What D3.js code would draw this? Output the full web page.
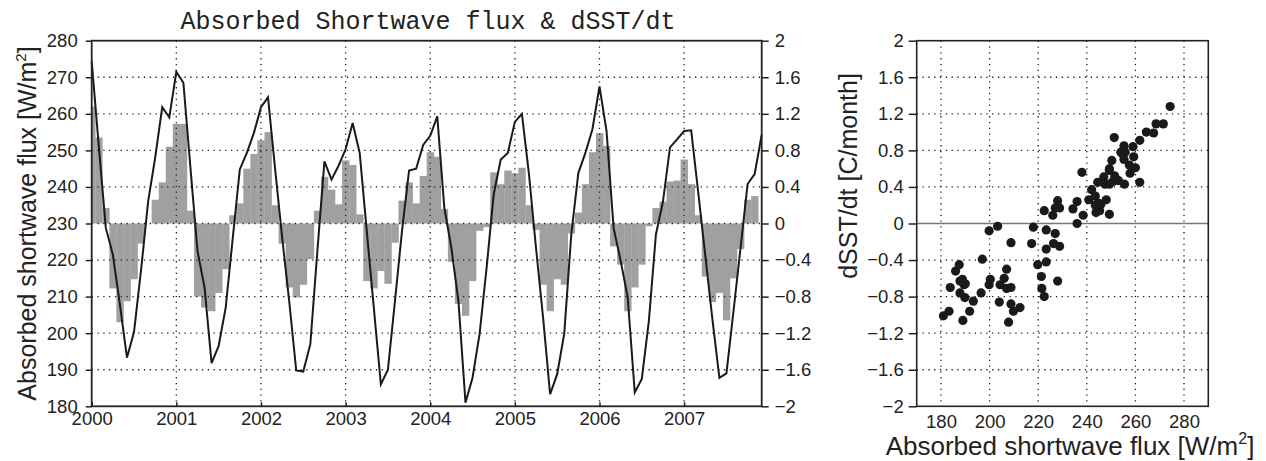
<!DOCTYPE html>
<html><head><meta charset="utf-8">
<script src="https://cdn.jsdelivr.net/npm/d3@7"></script>
<style>body{margin:0;background:#fff}svg{display:block}</style>
</head><body>
<svg id="c" width="1266" height="461"></svg>
<script>
// Monthly absorbed shortwave flux (W/m2), Jan 2000 - Dec 2007 (line, left axis)
const fluxLine = [
274.3,251.3,228.8,221.5,207.8,193.3,200.3,217.3,236.0,248.0,261.8,259.0,
271.5,268.5,245.3,222.5,212.5,191.8,196.5,207.0,226.0,244.8,249.3,254.8,
261.8,264.5,245.0,226.3,208.8,189.8,189.5,197.0,222.5,247.0,242.0,245.8,
250.3,257.5,249.3,228.0,207.0,186.0,190.0,208.8,228.0,244.5,245.0,251.5,
254.0,259.3,234.3,223.3,208.8,181.0,187.8,199.8,218.0,238.0,247.5,249.3,
257.8,260.0,243.5,223.3,204.3,183.3,188.8,199.8,227.0,243.8,249.3,255.8,
267.5,255.3,228.8,219.8,209.8,183.8,187.5,203.3,227.0,236.0,250.8,253.0,
255.3,255.5,238.5,221.3,204.0,187.8,189.0,206.0,223.3,240.8,243.5,254.3];
// Monthly dSST/dt (C/month) (bars, right axis); last month missing
const dsstBars = [
1.28,0.94,0.17,-0.71,-1.08,-0.85,-0.61,-0.22,0.00,0.26,0.45,0.84,
1.09,1.09,0.14,-0.80,-0.92,-0.96,-0.76,-0.50,0.09,0.22,0.60,0.76,
0.91,1.00,0.20,-0.22,-0.70,-0.81,-0.67,-0.39,0.14,0.51,0.37,0.21,
0.69,0.64,0.10,-0.63,-0.71,-0.52,-0.66,-0.21,0.25,0.45,0.22,0.52,
0.78,0.73,0.16,-0.42,-0.88,-1.01,-0.63,-0.08,-0.04,0.56,0.43,0.58,
0.55,0.61,0.20,-0.07,-0.67,-0.96,-0.61,-0.67,-0.11,0.12,0.43,0.78,
0.99,0.85,-0.25,-0.45,-0.96,-0.70,-0.45,-0.03,0.17,0.24,0.46,0.47,
0.70,0.43,0.09,-0.58,-0.86,-0.76,-1.06,-0.60,-0.28,0.26,0.30,null];
const startYear = 2000;
const yearTicks = [2000,2001,2002,2003,2004,2005,2006,2007];
const fluxTicks = [180,190,200,210,220,230,240,250,260,270,280];
const dsstTicks = [-2,-1.6,-1.2,-0.8,-0.4,0,0.4,0.8,1.2,1.6,2];
const scatterXTicks = [180,200,220,240,260,280];

const svg = d3.select("#c");
const fmt = v => (v < 0 ? "\u2212" : "") + d3.format("")(Math.abs(+v.toFixed(1)));
const tickFont = "Liberation Sans, Arial, sans-serif";
const tickSize = 18.5;

// ---------- left panel ----------
const L = {x0: 91.7, x1: 761.7, y0: 40.7, y1: 406.3};
const nM = fluxLine.length;
const tOf = i => startYear + i / 12;
const x = d3.scaleLinear().domain([startYear, tOf(nM - 1)]).range([L.x0, L.x1]);
const yL = d3.scaleLinear().domain([180, 280]).range([L.y1, L.y0]);
const yR = d3.scaleLinear().domain([-2, 2]).range([L.y1, L.y0]);

svg.append("clipPath").attr("id", "clipL").append("rect")
  .attr("x", L.x0).attr("y", L.y0).attr("width", L.x1 - L.x0).attr("height", L.y1 - L.y0);

const gL = svg.append("g");
// bars
const bw = x(tOf(1)) - x(tOf(0));
gL.append("g").attr("clip-path", "url(#clipL)").selectAll("rect")
  .data(dsstBars.map((v, i) => ({v, i})).filter(d => d.v !== null))
  .join("rect")
  .attr("x", d => x(tOf(d.i)) - bw / 2)
  .attr("width", bw + 0.3)
  .attr("y", d => Math.min(yR(d.v), yR(0)))
  .attr("height", d => Math.abs(yR(d.v) - yR(0)))
  .attr("fill", "#a0a0a3");

// grid
const grid = gL.append("g").attr("stroke", "#222").attr("stroke-width", 1.3).attr("stroke-dasharray", "1.3,4.5");
grid.selectAll(".h").data(fluxTicks.slice(1, -1)).join("line")
  .attr("x1", L.x0).attr("x2", L.x1).attr("y1", d => yL(d)).attr("y2", d => yL(d));
grid.selectAll(".v").data(yearTicks.slice(1)).join("line")
  .attr("y1", L.y0).attr("y2", L.y1).attr("x1", d => x(d)).attr("x2", d => x(d));

// line
gL.append("path").datum(fluxLine)
  .attr("fill", "none").attr("stroke", "#1a1a1a").attr("stroke-width", 2)
  .attr("stroke-linejoin", "miter")
  .attr("d", d3.line().x((d, i) => x(tOf(i))).y(d => yL(d)));

// frame
gL.append("rect").attr("x", L.x0).attr("y", L.y0).attr("width", L.x1 - L.x0).attr("height", L.y1 - L.y0)
  .attr("fill", "none").attr("stroke", "#222").attr("stroke-width", 1.8);

// axes
const axL = d3.axisLeft(yL).tickValues(fluxTicks).tickSize(6).tickPadding(8).tickFormat(d3.format("d"));
const gaL = gL.append("g").attr("transform", `translate(${L.x0},0)`).call(axL);
const axR = d3.axisRight(yR).tickValues(dsstTicks).tickSize(7).tickPadding(6).tickFormat(fmt);
const gaR = gL.append("g").attr("transform", `translate(${L.x1},0)`).call(axR);
const axB = d3.axisBottom(x).tickValues(yearTicks).tickSize(-4).tickPadding(9).tickFormat(d3.format("d"));
const gaB = gL.append("g").attr("transform", `translate(0,${L.y1})`).call(axB);
[gaL, gaR, gaB].forEach(g => {
  g.select(".domain").remove();
  g.selectAll(".tick line").attr("stroke", "#222").attr("stroke-width", 1.5);
  g.selectAll("text").attr("font-family", tickFont).attr("font-size", tickSize).attr("fill", "#222");
});
gaB.selectAll("text").attr("dy", "0.5em");

// title
svg.append("text").attr("x", 428).attr("y", 29).attr("text-anchor", "middle")
  .attr("font-family", "Liberation Mono, Courier New, monospace").attr("font-size", 25)
  .attr("fill", "#222").text("Absorbed Shortwave flux & dSST/dt");

// left y title
const t1 = svg.append("text").attr("transform", `translate(36,${(L.y0 + L.y1) / 2}) rotate(-90)`)
  .attr("text-anchor", "middle").attr("font-family", "Liberation Sans, Arial, sans-serif")
  .attr("font-size", 25).attr("fill", "#222");
t1.append("tspan").text("Absorbed shortwave flux [W/m");
t1.append("tspan").attr("font-size", 15).attr("dy", -10).text("2");
t1.append("tspan").attr("dy", 10).text("]");

// ---------- scatter panel ----------
const S = {x0: 916.7, x1: 1208.3, y0: 40.7, y1: 406.3};
const sx = d3.scaleLinear().domain([170, 290]).range([S.x0, S.x1]);
const sy = d3.scaleLinear().domain([-2, 2]).range([S.y1, S.y0]);
const gS = svg.append("g");
const sgrid = gS.append("g").attr("stroke", "#222").attr("stroke-width", 1.3).attr("stroke-dasharray", "1.3,4.5");
sgrid.selectAll(".h").data(dsstTicks.filter(d => d !== 0 && Math.abs(d) < 2)).join("line")
  .attr("x1", S.x0).attr("x2", S.x1).attr("y1", d => sy(d)).attr("y2", d => sy(d));
sgrid.selectAll(".v").data(scatterXTicks).join("line")
  .attr("y1", S.y0).attr("y2", S.y1).attr("x1", d => sx(d)).attr("x2", d => sx(d));
gS.append("line").attr("x1", S.x0).attr("x2", S.x1).attr("y1", sy(0)).attr("y2", sy(0))
  .attr("stroke", "#777").attr("stroke-width", 1.6);

const pts = fluxLine.map((f, i) => ({f, d: dsstBars[i]})).filter(p => p.d !== null);
gS.append("g").selectAll("circle").data(pts).join("circle")
  .attr("cx", p => sx(p.f)).attr("cy", p => sy(p.d)).attr("r", 4.6).attr("fill", "#1a1a1a");

gS.append("rect").attr("x", S.x0).attr("y", S.y0).attr("width", S.x1 - S.x0).attr("height", S.y1 - S.y0)
  .attr("fill", "none").attr("stroke", "#222").attr("stroke-width", 1.6);

const sAxL = d3.axisLeft(sy).tickValues(dsstTicks).tickSize(8).tickPadding(5).tickFormat(fmt);
const gsL = gS.append("g").attr("transform", `translate(${S.x0},0)`).call(sAxL);
const sAxB = d3.axisBottom(sx).tickValues(scatterXTicks).tickSize(0).tickPadding(12).tickFormat(d3.format("d"));
const gsB = gS.append("g").attr("transform", `translate(0,${S.y1})`).call(sAxB);
[gsL, gsB].forEach(g => {
  g.select(".domain").remove();
  g.selectAll(".tick line").attr("stroke", "#222").attr("stroke-width", 1.5);
  g.selectAll("text").attr("font-family", tickFont).attr("font-size", tickSize).attr("fill", "#222");
});
gsB.selectAll("text").attr("dy", "0.5em");

svg.append("text").attr("transform", `translate(857,176) rotate(-90)`)
  .attr("text-anchor", "middle").attr("font-family", "Liberation Sans, Arial, sans-serif")
  .attr("font-size", 25).attr("fill", "#222").text("dSST/dt [C/month]");

const t2 = svg.append("text").attr("x", 1070).attr("y", 455).attr("text-anchor", "middle")
  .attr("font-family", "Liberation Sans, Arial, sans-serif").attr("font-size", 26).attr("fill", "#222");
t2.append("tspan").text("Absorbed shortwave flux [W/m");
t2.append("tspan").attr("font-size", 16).attr("dy", -11).text("2");
t2.append("tspan").attr("dy", 11).text("]");
</script>
</body></html>
